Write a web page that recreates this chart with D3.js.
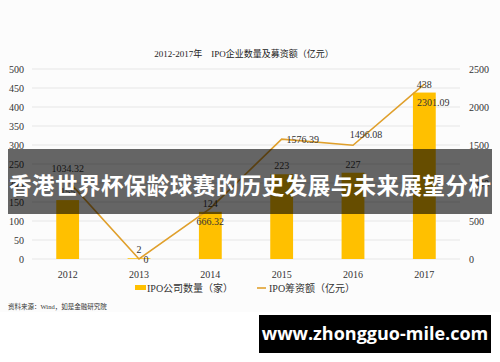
<!DOCTYPE html>
<html>
<head>
<meta charset="utf-8">
<script src="https://cdn.jsdelivr.net/npm/d3@7"></script>
<style>
  body { margin: 0; background: #fff; }
  svg { display: block; }
</style>
</head>
<body>
<svg id="chart"></svg>
<script>
const years = ['2012', '2013', '2014', '2015', '2016', '2017']
const ipoCount = [155, 2, 124, 223, 227, 438]
const ipoFunds = [1034.32, 0, 666.32, 1576.39, 1496.08, 2301.09]
const leftTicks = [0, 50, 100, 150, 200, 250, 300, 350, 400, 450, 500]
const rightTicks = [0, 500, 1000, 1500, 2000, 2500]

const width = 500
const height = 362
const serif = '"Liberation Serif", "DejaVu Serif", "Noto Sans CJK SC", serif'

const svg = d3.select('#chart')
    .attr('width', width)
    .attr('height', height)

svg.append('rect')
    .attr('width', width).attr('height', 312)
    .attr('fill', '#fcfcfc')

const x = d3.scaleBand().domain(years).range([32, 460]).paddingInner(0.68).paddingOuter(0.34)
const yL = d3.scaleLinear().domain([0, 500]).range([259, 69])
const yR = d3.scaleLinear().domain([0, 2500]).range([259, 69])

// grid
svg.append('g')
    .selectAll('line')
    .data(leftTicks)
    .enter()
    .append('line')
    .attr('x1', 32).attr('x2', 460)
    .attr('y1', d => yL(d)).attr('y2', d => yL(d))
    .attr('stroke', '#e6e6e6')

// axes (labels only)
const axL = svg.append('g')
    .attr('transform', 'translate(24,0)')
    .call(d3.axisLeft(yL).tickValues(leftTicks).tickSize(0).tickPadding(0))
axL.select('.domain').remove()

const axR = svg.append('g')
    .attr('transform', 'translate(469,0)')
    .call(d3.axisRight(yR).tickValues(rightTicks).tickFormat(d3.format('d')).tickSize(0).tickPadding(0))
axR.select('.domain').remove()

const axB = svg.append('g')
    .attr('transform', 'translate(0,259)')
    .call(d3.axisBottom(x).tickSize(0).tickPadding(12))
axB.select('.domain').remove()

svg.selectAll('.tick text')
    .attr('font-family', serif)
    .attr('font-size', 10)
    .attr('fill', '#333')

// bars
svg.append('g')
    .selectAll('rect')
    .data(ipoCount)
    .enter()
    .append('rect')
    .attr('x', (d, i) => x(years[i]))
    .attr('width', x.bandwidth())
    .attr('y', d => yL(d))
    .attr('height', d => yL(0) - yL(d))
    .attr('fill', '#ffc000')

// line
const line = d3.line()
    .x((d, i) => x(years[i]) + x.bandwidth() / 2)
    .y(d => yR(d))

svg.append('path')
    .datum(ipoFunds)
    .attr('d', line)
    .attr('fill', 'none')
    .attr('stroke', '#e0a02c')
    .attr('stroke-width', 1.6)

// bar labels
svg.append('g')
    .selectAll('text')
    .data(ipoCount)
    .enter()
    .append('text')
    .attr('x', (d, i) => x(years[i]) + x.bandwidth() / 2)
    .attr('y', d => yL(d) - 5)
    .attr('text-anchor', 'middle')
    .attr('font-family', serif)
    .attr('font-size', 10)
    .attr('fill', '#333')
    .text(d => d)

// line labels: [dx, dy] offsets from the point
const lineLabelOff = [[0, -8], [7, 4], [0, 17], [21, 4], [13, -7], [9, 22]]
svg.append('g')
    .selectAll('text')
    .data(ipoFunds)
    .enter()
    .append('text')
    .attr('x', (d, i) => x(years[i]) + x.bandwidth() / 2 + lineLabelOff[i][0])
    .attr('y', (d, i) => yR(d) + lineLabelOff[i][1])
    .attr('text-anchor', 'middle')
    .attr('font-family', serif)
    .attr('font-size', 10)
    .attr('fill', '#333')
    .text(d => d === 0 ? '0' : d3.format('.2f')(d))

// title
svg.append('text')
    .attr('x', 244).attr('y', 57)
    .attr('text-anchor', 'middle')
    .attr('font-family', serif)
    .attr('font-size', 9)
    .attr('fill', '#222')
    .text('2012-2017年　IPO企业数量及募资额（亿元）')

// legend
const lg = svg.append('g').attr('transform', 'translate(0,288)')
lg.append('rect').attr('x', 135).attr('y', -3).attr('width', 11).attr('height', 5).attr('fill', '#ffc000')
lg.append('text').attr('x', 147).attr('y', 4)
    .attr('font-family', serif).attr('font-size', 10).attr('fill', '#333')
    .text('IPO公司数量（家）')
lg.append('line').attr('x1', 257).attr('x2', 266).attr('y1', 0).attr('y2', 0)
    .attr('stroke', '#e0a02c').attr('stroke-width', 1.6)
lg.append('text').attr('x', 269).attr('y', 4)
    .attr('font-family', serif).attr('font-size', 10).attr('fill', '#333')
    .text('IPO筹资额（亿元）')

svg.append('text')
    .attr('x', 8).attr('y', 309)
    .attr('font-family', serif)
    .attr('font-size', 6.5)
    .attr('fill', '#333')
    .text('资料来源：Wind，如是金融研究院')

// overlay banner
svg.append('rect')
    .attr('x', 8).attr('y', 149).attr('width', 484).attr('height', 65)
    .attr('fill', 'rgba(0,0,0,0.6)')
svg.append('text')
    .attr('x', 250).attr('y', 194)
    .attr('text-anchor', 'middle')
    .attr('font-family', '"Noto Sans CJK SC", sans-serif')
    .attr('font-weight', 'bold')
    .attr('font-size', 22.5)
    .attr('fill', '#fff')
    .attr('textLength', 482)
    .text('香港世界杯保龄球赛的历史发展与未来展望分析')

// watermark
svg.append('rect')
    .attr('x', 259).attr('y', 315).attr('width', 232).attr('height', 38)
    .attr('fill', '#000')
svg.append('text')
    .attr('x', 375).attr('y', 340)
    .attr('text-anchor', 'middle')
    .attr('font-family', '"Open Sans", "DejaVu Sans", sans-serif')
    .attr('font-weight', 'bold')
    .attr('font-size', 18)
    .attr('fill', '#fff')
    .text('www.zhongguo-mile.com')
</script>
</body>
</html>
